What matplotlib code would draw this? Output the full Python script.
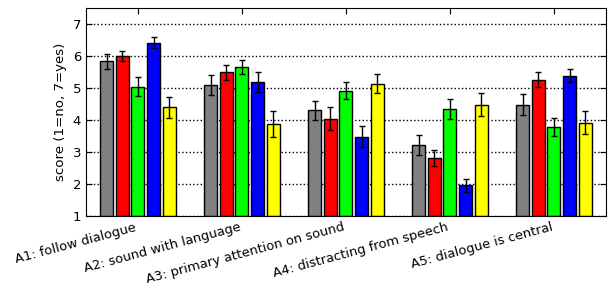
import matplotlib
matplotlib.use('Agg')
import matplotlib.pyplot as plt
import numpy as np

questions = ['A1: follow dialogue', 'A2: sound with language',
             'A3: primary attention on sound', 'A4: distracting from speech',
             'A5: dialogue is central']
colors = ['#808080', '#ff0000', '#00ff00', '#0000ff', '#ffff00']

# mean score per condition (rows) for each question (columns)
means = [
    [5.83, 5.09, 4.30, 3.22, 4.48],
    [6.00, 5.49, 4.04, 2.82, 5.26],
    [5.04, 5.65, 4.92, 4.34, 3.78],
    [6.41, 5.19, 3.48, 1.96, 5.39],
    [4.39, 3.87, 5.13, 4.48, 3.91],
]
errors = [
    [0.23, 0.31, 0.30, 0.30, 0.32],
    [0.15, 0.23, 0.35, 0.25, 0.24],
    [0.30, 0.21, 0.28, 0.31, 0.27],
    [0.17, 0.31, 0.32, 0.20, 0.21],
    [0.34, 0.41, 0.30, 0.35, 0.36],
]

fig = plt.figure(figsize=(6.08, 2.86), dpi=100)
ax = fig.add_axes([0.1414, 0.245, 0.9967 - 0.1414, 0.972 - 0.245])

x = np.arange(len(questions))
step = 0.15
width = 0.125
for i, (m, e) in enumerate(zip(means, errors)):
    pos = x + (i - 2) * step
    ax.bar(pos, np.array(m) - 1, width=width, bottom=1, color=colors[i],
           edgecolor='black', linewidth=1, zorder=2)
    ax.errorbar(pos, m, yerr=e, fmt='none', ecolor='black', elinewidth=1,
                capsize=2.5, capthick=1, zorder=3)

ax.set_xlim(-0.5, len(questions) - 0.5)
ax.set_ylim(1, 7.5)
ax.set_yticks(range(1, 8))
ax.yaxis.grid(True, linestyle=':', color='black', linewidth=1)
ax.set_axisbelow(True)
ax.set_ylabel('score (1=no, 7=yes)', fontsize=9.6)
ax.set_xticks(x)
ax.set_xticklabels(questions, rotation=15, ha='right', fontsize=9.4)
ax.tick_params(direction='in', top=True, right=True, length=4)
ax.tick_params(axis='y', labelsize=9.5)

fig.savefig('out.png', dpi=100)
